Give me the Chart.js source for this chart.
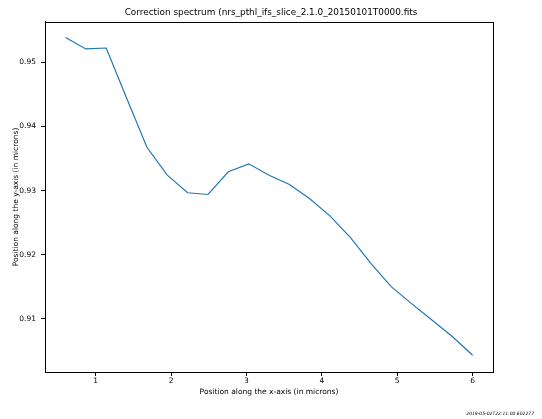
<!DOCTYPE html>
<html>
<head>
<meta charset="utf-8">
<script src="https://cdn.jsdelivr.net/npm/chart.js@4"></script>
<style>
  html, body { margin: 0; padding: 0; background: #fff; }
  canvas { display: block; }
</style>
</head>
<body>
<canvas id="spectrum" width="542" height="419"></canvas>
<script>
const xValues = [0.6, 0.87, 1.14, 1.41, 1.68, 1.95, 2.22, 2.49, 2.76, 3.03, 3.30,
  3.57, 3.84, 4.11, 4.38, 4.65, 4.92, 5.19, 5.46, 5.73, 6.0];
const yValues = [0.95389, 0.95209, 0.95224, 0.94445, 0.93676, 0.93240, 0.92966, 0.92939,
  0.93293, 0.93417, 0.93240, 0.93095, 0.92872, 0.92601, 0.92265, 0.91864, 0.91502,
  0.91237, 0.90981, 0.90723, 0.90431];
const xTicks = [1, 2, 3, 4, 5, 6];
const yTicks = [0.91, 0.92, 0.93, 0.94, 0.95];
const titleText = "Correction spectrum (nrs_pthl_ifs_slice_2.1.0_20150101T0000.fits";
const stampText = "2019-05-02T22:11:00.602277";

const fontFamily = "'DejaVu Sans', sans-serif";

// frame round the plot area + timestamp in the corner
const framePlugin = {
  id: "frame",
  afterDraw(chart) {
    const { ctx, chartArea } = chart;
    ctx.save();
    ctx.strokeStyle = "#000";
    ctx.lineWidth = 1;
    ctx.strokeRect(Math.round(chartArea.left) + 0.5, Math.round(chartArea.top) + 0.5,
      Math.round(chartArea.right - chartArea.left), Math.round(chartArea.bottom - chartArea.top));
    ctx.fillStyle = "#000";
    ctx.font = "italic 4.5px " + fontFamily;
    ctx.textAlign = "right";
    ctx.textBaseline = "middle";
    ctx.fillText(stampText, 534, 414);
    ctx.restore();
  }
};

const points = xValues.map((x, i) => ({ x: x, y: yValues[i] }));

new Chart(document.getElementById("spectrum"), {
  type: "line",
  data: {
    datasets: [{
      data: points,
      borderColor: "#1f77b4",
      borderWidth: 1.2,
      pointRadius: 0,
      tension: 0,
      fill: false
    }]
  },
  options: {
    responsive: false,
    animation: false,
    layout: { padding: 0 },
    plugins: {
      legend: { display: false },
      tooltip: { enabled: false },
      title: {
        display: true,
        text: titleText,
        color: "#000",
        font: { family: fontFamily, size: 8.9, weight: "normal" },
        padding: { top: 7.6, bottom: 3.7 }
      }
    },
    scales: {
      x: {
        type: "linear",
        min: 0.328,
        max: 6.27,
        afterFit(axis) { axis.height = 47; },
        afterBuildTicks(axis) { axis.ticks = xTicks.map(v => ({ value: v })); },
        grid: { display: true, drawOnChartArea: false, drawTicks: true, tickLength: 4, color: "#000" },
        border: { display: true, color: "#000" },
        ticks: {
          color: "#000",
          padding: 1,
          maxRotation: 0,
          font: { family: fontFamily, size: 7.5 },
          callback: v => String(v)
        },
        title: {
          display: true,
          text: "Position along the x-axis (in microns)",
          color: "#000",
          font: { family: fontFamily, size: 7.5 },
          padding: { top: 0, bottom: 22 }
        }
      },
      y: {
        type: "linear",
        min: 0.9017,
        max: 0.9563,
        afterFit(axis) { axis.width = 45; },
        afterBuildTicks(axis) { axis.ticks = yTicks.map(v => ({ value: v })); },
        grid: { display: true, drawOnChartArea: false, drawTicks: true, tickLength: 4, color: "#000" },
        border: { display: true, color: "#000" },
        ticks: {
          color: "#000",
          padding: 5,
          font: { family: fontFamily, size: 7.5 },
          callback: v => v.toFixed(2)
        },
        title: {
          display: true,
          text: "Position along the y-axis (in microns)",
          color: "#000",
          font: { family: fontFamily, size: 7.5 },
          padding: { top: 12, bottom: 0 }
        }
      },
      // empty right-hand axis, only to keep the right margin
      yRight: {
        type: "linear",
        position: "right",
        display: true,
        afterFit(axis) { axis.width = 49; },
        grid: { display: false },
        border: { display: false },
        ticks: { display: false }
      }
    }
  },
  plugins: [framePlugin]
});
</script>
</body>
</html>
